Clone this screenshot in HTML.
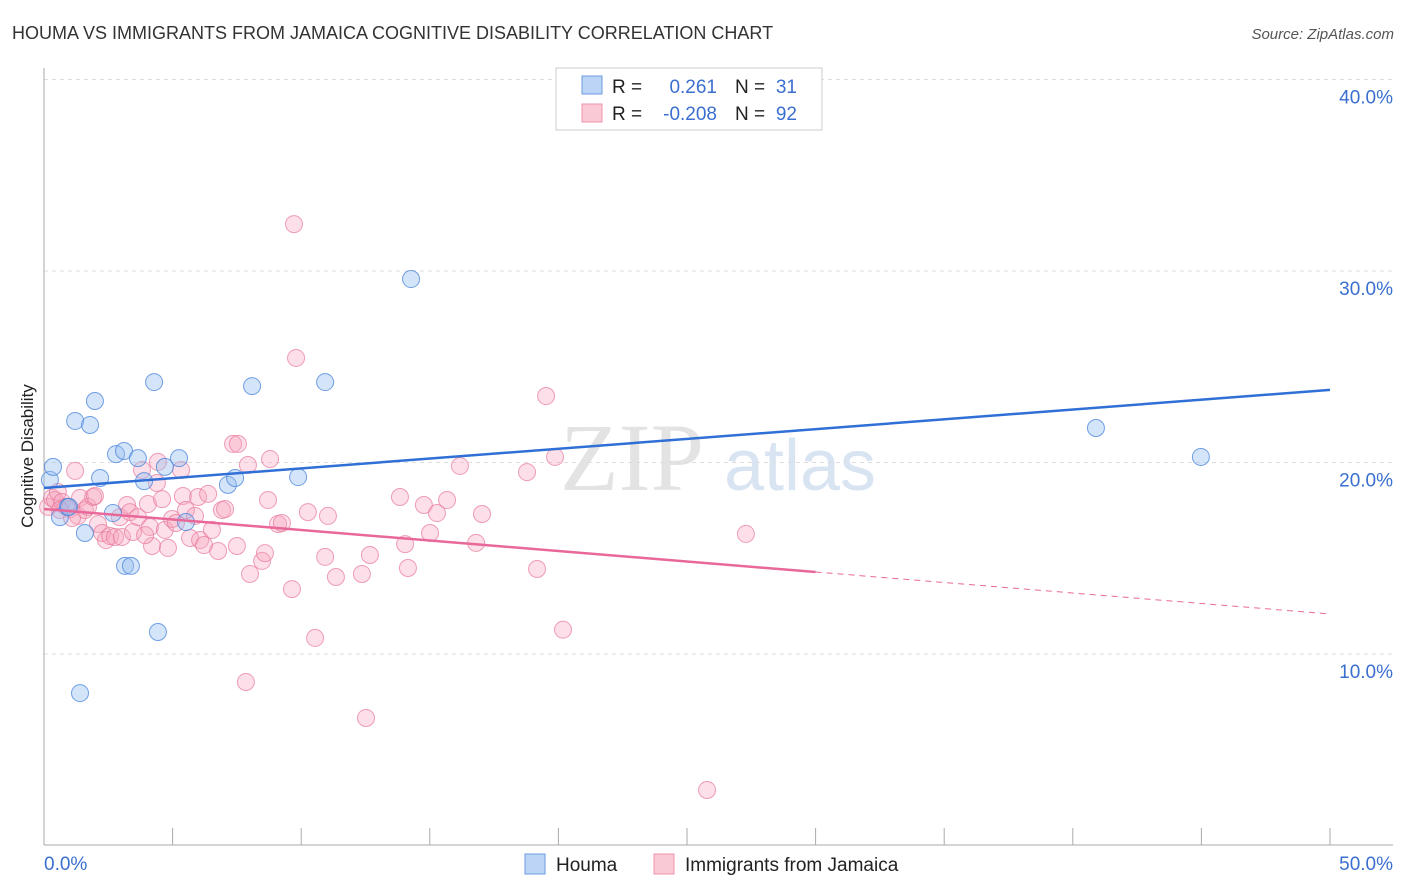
<!DOCTYPE html>
<html><head><meta charset="utf-8"><style>
body{margin:0;background:#fff;font-family:"Liberation Sans",sans-serif}
svg{display:block}
</style></head><body>
<svg id="chart" width="1406" height="892" viewBox="0 0 1406 892" xmlns="http://www.w3.org/2000/svg">
<text x="12" y="39" font-size="18" fill="#333">HOUMA VS IMMIGRANTS FROM JAMAICA COGNITIVE DISABILITY CORRELATION CHART</text>
<text x="1394" y="39" font-size="15" fill="#555" text-anchor="end" font-style="italic">Source: ZipAtlas.com</text>
<g>
<text x="632" y="490" font-size="96" fill="#d8d8d8" text-anchor="middle" font-family="Liberation Serif,serif" opacity="0.7">ZIP</text>
<text x="800" y="490" font-size="72" fill="#c9d9ee" text-anchor="middle" opacity="0.7">atlas</text>
</g>
<g id="grid"></g>
<g id="axes"></g>
<g id="pts-pink"></g>
<g id="pts-blue"></g>
<g id="trends"></g>
<text transform="translate(33,456) rotate(-90)" font-size="17" fill="#222" text-anchor="middle">Cognitive Disability</text>
<g>
<rect x="556" y="68" width="266" height="62" fill="#fff" stroke="#ccc"/>
<rect x="582" y="76" width="20" height="18" fill="#bcd4f5" stroke="#6b9be0"/>
<rect x="582" y="104" width="20" height="18" fill="#f9c9d6" stroke="#ee93ad"/>
<text x="612" y="93" font-size="19" fill="#222">R = </text><text x="717" y="93" font-size="19" fill="#3a6fd0" text-anchor="end">0.261</text>
<text x="735" y="93" font-size="19" fill="#222">N = </text><text x="797" y="93" font-size="19" fill="#3a6fd0" text-anchor="end">31</text>
<text x="612" y="120" font-size="19" fill="#222">R = </text><text x="717" y="120" font-size="19" fill="#3a6fd0" text-anchor="end">-0.208</text>
<text x="735" y="120" font-size="19" fill="#222">N = </text><text x="797" y="120" font-size="19" fill="#3a6fd0" text-anchor="end">92</text>
</g>
<g>
<rect x="525" y="854" width="20" height="20" fill="#bcd4f5" stroke="#6b9be0"/>
<text x="556" y="871" font-size="19" fill="#222">Houma</text>
<rect x="654" y="854" width="20" height="20" fill="#f9c9d6" stroke="#ee93ad"/>
<text x="685" y="871" font-size="19" fill="#222">Immigrants from Jamaica</text>
</g>
</svg>
<script>
const yTicks=[10,20,30,40];
const yTickLabels=["10.0%","20.0%","30.0%","40.0%"];
const xTicks=[0,5,10,15,20,25,30,35,40,45,50];
const houmaX=[0.23,0.35,0.62,0.93,1.21,1.40,1.59,1.79,1.98,2.18,2.68,2.80,3.11,3.15,3.38,3.65,3.89,4.28,4.43,4.70,5.25,5.52,7.15,7.43,8.09,9.88,10.93,14.27,40.90,44.98,0.97];
const houmaY=[19.09,19.77,17.15,17.68,22.17,7.96,16.32,21.96,23.21,19.19,17.36,20.44,20.60,14.60,14.60,20.23,19.03,24.20,11.15,19.77,20.23,16.89,18.83,19.19,23.99,19.24,24.20,29.58,21.80,20.29,17.68];
const jamX=[0.16,0.31,0.43,0.54,0.70,0.86,1.01,1.21,1.32,1.40,1.59,1.71,1.91,1.98,2.10,2.26,2.41,2.57,2.76,2.95,3.03,3.23,3.34,3.46,3.65,3.81,4.04,4.12,4.20,4.39,4.43,4.59,4.70,4.82,4.98,5.13,5.33,5.40,5.52,5.68,5.87,5.99,6.07,6.22,6.38,6.53,6.77,6.92,7.04,7.35,7.54,7.50,7.85,7.93,8.01,8.48,8.59,8.71,8.79,9.10,9.25,9.64,9.72,9.80,10.26,10.54,10.93,11.04,11.35,12.36,12.52,12.67,13.84,14.04,14.15,14.77,15.01,15.28,15.67,16.17,16.80,17.03,18.78,19.17,19.52,19.87,20.18,25.78,27.29,0.62,1.09,3.93];
const jamY=[17.68,18.15,18.04,18.46,17.94,17.68,17.57,19.56,17.21,18.15,17.52,17.68,18.20,18.25,16.79,16.32,15.95,16.16,16.11,17.15,16.11,17.78,17.41,16.37,17.15,19.61,17.83,16.63,15.64,18.93,20.03,18.09,16.48,15.54,17.05,16.84,19.61,18.25,17.52,16.06,17.21,18.20,15.95,15.69,18.36,16.48,15.38,17.52,17.57,20.97,20.97,15.64,8.54,19.87,14.18,14.86,15.27,18.04,20.18,16.79,16.84,13.39,32.45,25.46,17.41,10.84,15.07,17.21,14.02,14.18,6.66,15.17,18.20,15.74,14.49,17.78,16.32,17.36,18.04,19.82,15.80,17.31,19.50,14.44,23.47,20.29,11.27,2.90,16.27,17.52,17.10,16.21];
const houmaTrend=[18.67,23.79];  // y at x=0 and x=50
const jamTrend=[17.57,12.09];    // y at x=0 and x=50
const jamSolidEnd=30;
const NS="http://www.w3.org/2000/svg";
const X=v=>44+v*(1286/50);
const Y=v=>845.5-v*19.15;
function mk(t,a,p){const e=document.createElementNS(NS,t);for(const k in a)e.setAttribute(k,a[k]);p.appendChild(e);return e;}
const grid=document.getElementById('grid'),axes=document.getElementById('axes');
yTicks.forEach((t,i)=>{
 const l=mk('line',{x1:44,x2:1393,y1:Y(t),y2:Y(t),stroke:'#ddd','stroke-dasharray':'4,4'},grid);
 
 
 const tx=mk('text',{x:1393,y:Y(t)+24,'font-size':19,fill:'#3a6fd0','text-anchor':'end'},axes);
 tx.textContent=yTickLabels[i];
 
 
});
const al=mk('line',{x1:44,x2:44,y1:68,y2:845,stroke:'#aaa'},axes);


const bl=mk('line',{x1:44,x2:1393,y1:845,y2:845,stroke:'#aaa'},axes);


xTicks.forEach(t=>{
 const l=mk('line',{x1:X(t),x2:X(t),y1:828,y2:845,stroke:'#aaa'},axes);
 
 
});
const xl0=mk('text',{x:44,y:870,'font-size':19,fill:'#3a6fd0'},axes);xl0.textContent='0.0%';


const xl1=mk('text',{x:1393,y:870,'font-size':19,fill:'#3a6fd0','text-anchor':'end'},axes);xl1.textContent='50.0%';


const pp=document.getElementById('pts-pink');
jamX.forEach((v,i)=>{const c=mk('circle',{cx:X(v),cy:Y(jamY[i]),r:8.5,fill:'rgba(246,164,189,0.35)',stroke:'rgba(232,120,155,0.7)','stroke-width':1},pp);
 
 });
const bp=document.getElementById('pts-blue');
houmaX.forEach((v,i)=>{const c=mk('circle',{cx:X(v),cy:Y(houmaY[i]),r:8.5,fill:'rgba(150,190,240,0.4)',stroke:'rgba(70,130,220,0.75)','stroke-width':1},bp);
 
 });
const tr=document.getElementById('trends');
const hb=mk('line',{x1:X(0),y1:Y(houmaTrend[0]),x2:X(50),y2:Y(houmaTrend[1]),stroke:'#2f6fd6','stroke-width':2.5},tr);


const jm=v=>jamTrend[0]+(jamTrend[1]-jamTrend[0])*v/50;
const js=mk('line',{x1:X(0),y1:Y(jm(0)),x2:X(jamSolidEnd),y2:Y(jm(jamSolidEnd)),stroke:'#e8689a','stroke-width':2.5},tr);


const jd=mk('line',{x1:X(jamSolidEnd),y1:Y(jm(jamSolidEnd)),x2:X(50),y2:Y(jm(50)),stroke:'#e8689a','stroke-width':1,'stroke-dasharray':'6,5'},tr);


</script>
</body></html>
